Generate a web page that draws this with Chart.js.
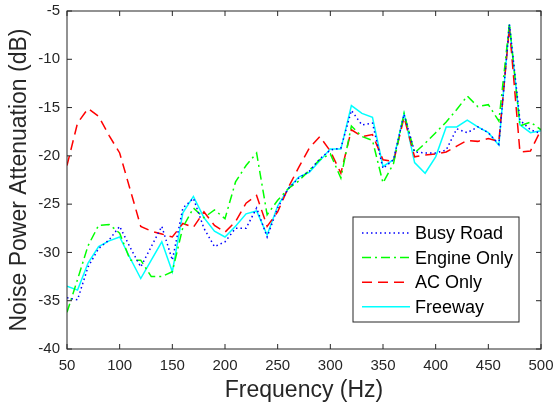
<!DOCTYPE html>
<html>
<head>
<meta charset="utf-8">
<script src="https://cdn.jsdelivr.net/npm/chart.js@4.4.1/dist/chart.umd.min.js"></script>
<style>
  html, body { margin: 0; padding: 0; background: #fff; }
  #wrap { width: 555px; height: 406px; }
</style>
</head>
<body>
<div id="wrap"><canvas id="myChart" width="555" height="406"></canvas></div>
<script>
// frequency bins (Hz)
const freqs = [50,60,70,80,90,100,110,120,130,140,150,160,170,180,190,200,210,220,230,240,
  250,260,270,280,290,300,310,320,330,340,350,360,370,380,390,400,410,420,430,440,450,460,470,480,490,500];

// attenuation (dB)
const busyRoad = [-34.7,-34.9,-31.5,-29.6,-28.7,-27.3,-29.5,-31.5,-29.4,-27.3,-30.8,-25.4,-24.4,-27.5,-29.4,-28.9,
  -27.5,-27.5,-25.4,-28.4,-25.4,-23.4,-22.3,-21.6,-20.3,-19.4,-19.2,-15.3,-16.8,-16.6,-21.3,-20.4,-15.7,-19.6,-19.7,
  -19.7,-19.4,-17.2,-17.6,-17.0,-17.6,-18.8,-6.4,-16.3,-17.3,-17.7];
const engineOnly = [-36.2,-32.8,-29.3,-27.2,-27.1,-28.0,-30.8,-30.8,-32.5,-32.5,-32.0,-27.4,-25.4,-26.4,-25.6,-26.5,
  -22.7,-21.0,-19.7,-26.1,-24.6,-23.4,-22.6,-21.5,-20.4,-19.8,-22.3,-16.9,-18.0,-18.4,-22.8,-20.8,-15.6,-19.7,-18.7,
  -17.6,-16.5,-15.2,-13.8,-14.9,-14.7,-16.4,-6.3,-16.9,-16.5,-17.3];
const acOnly = [-21.0,-16.6,-15.1,-15.9,-17.9,-19.7,-23.5,-27.3,-27.8,-28.1,-28.4,-27.0,-27.4,-25.8,-27.2,-27.9,
  -26.8,-24.9,-24.1,-27.3,-25.8,-23.3,-21.2,-19.2,-18.0,-19.5,-21.8,-17.3,-18.0,-17.8,-20.4,-20.6,-16.0,-20.1,-19.9,
  -19.8,-19.6,-19.0,-18.4,-18.5,-18.2,-18.5,-6.7,-19.6,-19.5,-17.3];
const freeway = [-33.5,-33.9,-31.1,-29.4,-28.8,-28.4,-30.6,-32.7,-30.8,-28.9,-32.0,-25.9,-24.2,-26.4,-27.8,-28.4,
  -27.3,-26.0,-25.7,-28.2,-25.2,-23.4,-22.2,-21.7,-20.5,-19.3,-19.3,-14.8,-15.6,-16.0,-21.1,-20.4,-15.6,-20.7,-21.8,
  -20.1,-17.0,-17.0,-16.3,-17.0,-17.6,-18.9,-6.4,-16.8,-17.6,-17.4];

const seriesNames = ['Busy Road', 'Engine Only', 'AC Only', 'Freeway'];

const FONT = '"Liberation Sans", Arial, Helvetica, sans-serif';
const AXIS = '#262626';

function pts(vals) {
  return freqs.map((f, i) => ({x: f, y: vals[i]}));
}

// box + inward ticks on all four sides, matlab style
const boxPlugin = {
  id: 'box',
  afterDraw(chart) {
    const ctx = chart.ctx;
    const a = chart.chartArea;
    const x = chart.scales.x, y = chart.scales.y;
    ctx.save();
    ctx.strokeStyle = AXIS;
    ctx.lineWidth = 1;
    ctx.strokeRect(a.left, a.top, a.right - a.left, a.bottom - a.top);
    ctx.beginPath();
    x.ticks.forEach(t => {
      const px = x.getPixelForValue(t.value);
      ctx.moveTo(px, a.bottom); ctx.lineTo(px, a.bottom - 5);
      ctx.moveTo(px, a.top); ctx.lineTo(px, a.top + 5);
    });
    y.ticks.forEach(t => {
      const py = y.getPixelForValue(t.value);
      ctx.moveTo(a.left, py); ctx.lineTo(a.left + 5, py);
      ctx.moveTo(a.right, py); ctx.lineTo(a.right - 5, py);
    });
    ctx.stroke();
    ctx.restore();
  }
};

// legend box in the lower right of the plot
const legendPlugin = {
  id: 'boxLegend',
  afterDraw(chart) {
    const ctx = chart.ctx;
    const bx = 353, by = 217, bw = 166, bh = 105;
    ctx.save();
    ctx.fillStyle = '#fff';
    ctx.fillRect(bx, by, bw, bh);
    ctx.strokeStyle = AXIS;
    ctx.lineWidth = 1;
    ctx.strokeRect(bx, by, bw, bh);
    ctx.font = '18px ' + FONT;
    ctx.textBaseline = 'middle';
    chart.data.datasets.forEach((ds, i) => {
      const cy = by + 16 + i * 24.6;
      ctx.strokeStyle = ds.borderColor;
      ctx.lineWidth = ds.borderWidth;
      ctx.setLineDash(ds.borderDash || []);
      ctx.beginPath();
      ctx.moveTo(362, cy); ctx.lineTo(410, cy);
      ctx.stroke();
      ctx.setLineDash([]);
      ctx.fillStyle = '#000';
      ctx.fillText(ds.label, 415, cy + 1);
    });
    ctx.restore();
  }
};

const ctx = document.getElementById('myChart').getContext('2d');
const myChart = new Chart(ctx, {
  type: 'line',
  data: {
    datasets: [{
      label: seriesNames[0],
      data: pts(busyRoad),
      borderColor: '#0000ff',
      borderWidth: 1.5,
      borderDash: [1.5, 3]
    }, {
      label: seriesNames[1],
      data: pts(engineOnly),
      borderColor: '#00ff00',
      borderWidth: 1.5,
      borderDash: [9, 4, 2, 4]
    }, {
      label: seriesNames[2],
      data: pts(acOnly),
      borderColor: '#ff0000',
      borderWidth: 1.5,
      borderDash: [10, 6]
    }, {
      label: seriesNames[3],
      data: pts(freeway),
      borderColor: '#00ffff',
      borderWidth: 1.5
    }]
  },
  options: {
    responsive: false,
    animation: false,
    elements: { point: { radius: 0 }, line: { tension: 0 } },
    layout: { autoPadding: false, padding: { top: 11, right: 14, left: 0, bottom: 0 } },
    plugins: { legend: { display: false }, tooltip: { enabled: false } },
    scales: {
      x: {
        type: 'linear',
        min: 50, max: 500,
        grid: { display: false, drawTicks: false },
        border: { display: false },
        ticks: { stepSize: 50, padding: 8, color: AXIS, font: { family: FONT, size: 15 }, maxRotation: 0 },
        title: { display: true, text: 'Frequency (Hz)', color: AXIS, font: { family: FONT, size: 23 }, padding: { top: 0, bottom: 2 } },
        afterFit(scale) {
          scale.height = 57;
          scale.paddingLeft = 0; scale.paddingRight = 0;
        }
      },
      y: {
        min: -40, max: -5,
        grid: { display: false, drawTicks: false },
        border: { display: false },
        ticks: { stepSize: 5, padding: 7, color: AXIS, font: { family: FONT, size: 15 } },
        title: { display: true, text: 'Noise Power Attenuation (dB)', color: AXIS, font: { family: FONT, size: 23 }, padding: { top: 6, bottom: 0 } },
        afterFit(scale) {
          scale.width = 67;
          scale.paddingTop = 0; scale.paddingBottom = 0;
        }
      }
    }
  },
  plugins: [boxPlugin, legendPlugin]
});
</script>
</body>
</html>
